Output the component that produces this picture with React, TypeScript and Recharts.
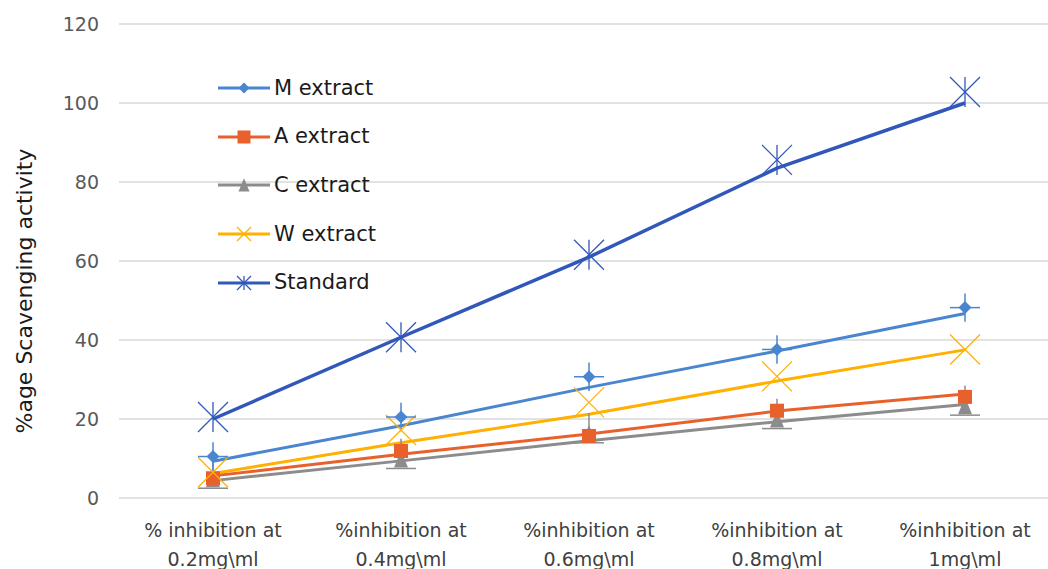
import {
  ComposedChart,
  CartesianGrid,
  ErrorBar,
  Legend,
  Line,
  XAxis,
  YAxis,
} from "recharts";

const categories = [
  "% inhibition at\n0.2mg\\ml",
  "%inhibition at\n0.4mg\\ml",
  "%inhibition at\n0.6mg\\ml",
  "%inhibition at\n0.8mg\\ml",
  "%inhibition at\n1mg\\ml",
];

// measured points
const mExtract = [10.5, 20.5, 30.7, 37.6, 48.2];
const aExtract = [5.0, 11.9, 15.7, 22.1, 25.6];
const cExtract = [4.5, 9.5, 16.0, 19.6, 23.0];
const wExtract = [6.5, 17.2, 24.2, 30.8, 37.6];
const standard = [20.5, 40.7, 61.6, 85.6, 102.8];

// fitted lines
const mFit = [9.3, 18.3, 28.0, 37.2, 46.7];
const aFit = [5.6, 11.1, 16.2, 22.0, 26.3];
const cFit = [4.4, 9.4, 14.5, 19.3, 23.7];
const wFit = [6.2, 14.0, 21.2, 29.6, 37.5];
const stdFit = [20.0, 40.7, 61.0, 83.5, 100.0];

// error bars
const mErr = [3.6, 3.6, 3.6, 3.6, 3.6];
const cErr = [5.5, 5.5, 5.5, 5.5, 5.5];

const yTicks = [0, 20, 40, 60, 80, 100, 120];

const COLORS = {
  m: "#4a86cf",
  a: "#e8612c",
  c: "#8c8c8c",
  w: "#ffb000",
  std: "#3057b9",
};

const FONT = "'DejaVu Sans', sans-serif";

const data = categories.map((name, i) => ({
  name,
  m: mExtract[i],
  a: aExtract[i],
  c: cExtract[i],
  w: wExtract[i],
  std: standard[i],
  mFit: mFit[i],
  aFit: aFit[i],
  cFit: cFit[i],
  wFit: wFit[i],
  stdFit: stdFit[i],
  mErr: mErr[i],
  cErr: [0, cErr[i]],
}));

type MarkProps = { cx?: number; cy?: number; size?: number; bars?: boolean };

function Diamond({ cx = 0, cy = 0, size = 13, bars = true }: MarkProps) {
  const r = size / 2;
  return (
    <g>
      {bars && (
        <line x1={cx - 15} x2={cx + 15} y1={cy} y2={cy} stroke={COLORS.m} strokeWidth={1.5} />
      )}
      <polygon
        points={`${cx},${cy - r} ${cx + r},${cy} ${cx},${cy + r} ${cx - r},${cy}`}
        fill={COLORS.m}
      />
    </g>
  );
}

function Square({ cx = 0, cy = 0, size = 14 }: MarkProps) {
  const r = size / 2;
  return <rect x={cx - r} y={cy - r} width={size} height={size} fill={COLORS.a} />;
}

function Triangle({ cx = 0, cy = 0, size = 14, bars = true }: MarkProps) {
  const r = size / 2;
  return (
    <g>
      {bars && (
        <line x1={cx - 15} x2={cx + 15} y1={cy + r + 1} y2={cy + r + 1} stroke={COLORS.c} strokeWidth={1.5} />
      )}
      <polygon
        points={`${cx},${cy - r * 1.4} ${cx + r},${cy + r} ${cx - r},${cy + r}`}
        fill={COLORS.c}
      />
    </g>
  );
}

function Cross({ cx = 0, cy = 0, size = 30 }: MarkProps) {
  const r = size / 2;
  return (
    <g stroke={COLORS.w} strokeWidth={1.3}>
      <line x1={cx - r} y1={cy - r} x2={cx + r} y2={cy + r} />
      <line x1={cx - r} y1={cy + r} x2={cx + r} y2={cy - r} />
    </g>
  );
}

function Star({ cx = 0, cy = 0, size = 30 }: MarkProps) {
  const r = size / 2;
  return (
    <g stroke={COLORS.std} strokeWidth={1.3}>
      <line x1={cx - r} y1={cy - r} x2={cx + r} y2={cy + r} />
      <line x1={cx - r} y1={cy + r} x2={cx + r} y2={cy - r} />
      <line x1={cx} y1={cy - r} x2={cx} y2={cy + r} />
    </g>
  );
}

const legendItems = [
  { label: "M extract", color: COLORS.m, mark: (x: number, y: number) => <Diamond cx={x} cy={y} size={11} bars={false} /> },
  { label: "A extract", color: COLORS.a, mark: (x: number, y: number) => <Square cx={x} cy={y} size={13} /> },
  { label: "C extract", color: COLORS.c, mark: (x: number, y: number) => <Triangle cx={x} cy={y + 1} size={11} bars={false} /> },
  { label: "W extract", color: COLORS.w, mark: (x: number, y: number) => <Cross cx={x} cy={y} size={14} /> },
  { label: "Standard", color: COLORS.std, mark: (x: number, y: number) => <Star cx={x} cy={y} size={14} /> },
];

function LegendBox() {
  return (
    <div style={{ fontFamily: FONT, fontSize: 21, color: "#1a1a1a", lineHeight: 1 }}>
      {legendItems.map((item) => (
        <div key={item.label} style={{ display: "flex", alignItems: "center", height: 48.6 }}>
          <svg width={56} height={20} style={{ overflow: "visible" }}>
            <line x1={0} x2={52} y1={10} y2={10} stroke={item.color} strokeWidth={3} />
            {item.mark(26, 10)}
          </svg>
          <span>{item.label}</span>
        </div>
      ))}
    </div>
  );
}

function CategoryTick({ x, y, payload }: any) {
  const [first, second] = String(payload.value).split("\n");
  return (
    <text x={x} y={y} textAnchor="middle" fill="#404040" fontSize={19} fontFamily={FONT}>
      <tspan x={x} y={y + 31}>{first}</tspan>
      <tspan x={x} y={y + 60}>{second}</tspan>
    </text>
  );
}

// y title sits a little below the plot's vertical middle
function YTitle({ viewBox }: any) {
  const x = 24;
  const y = viewBox.y + viewBox.height / 2 + 30;
  return (
    <text
      x={x}
      y={y}
      transform={`rotate(-90, ${x}, ${y})`}
      textAnchor="middle"
      dominantBaseline="central"
      fill="#1a1a1a"
      fontSize={22}
      fontFamily={FONT}
    >
      %age Scavenging activity
    </text>
  );
}

export default function App() {
  return (
    <div style={{ position: "fixed", left: 0, top: 0, width: 1048, height: 569, overflow: "hidden", background: "#fff" }}>
      <ComposedChart
        width={1060}
        height={569}
        data={data}
        margin={{ top: 24, right: 1, left: 0, bottom: 0 }}
      >
        <CartesianGrid vertical={false} stroke="#d9d9d9" strokeWidth={1.5} />
        <XAxis
          dataKey="name"
          axisLine={false}
          tickLine={false}
          height={71}
          interval={0}
          padding={{ left: 94, right: 94 }}
          tick={<CategoryTick />}
        />
        <YAxis
          domain={[0, 120]}
          ticks={yTicks}
          width={119}
          axisLine={false}
          tickLine={false}
          tickMargin={14}
          tick={{ fill: "#595959", fontSize: 19, fontFamily: FONT }}
          label={<YTitle />}
        />
        {/* centered vertical layout keeps the legend from reserving plot space */}
        <Legend
          layout="vertical"
          verticalAlign="middle"
          align="center"
          content={<LegendBox />}
          wrapperStyle={{ left: 218, top: 64, width: 220 }}
        />

        <Line dataKey="stdFit" stroke={COLORS.std} strokeWidth={3.5} dot={false} isAnimationActive={false} legendType="none" />
        <Line dataKey="mFit" stroke={COLORS.m} strokeWidth={3} dot={false} isAnimationActive={false} legendType="none" />
        <Line dataKey="wFit" stroke={COLORS.w} strokeWidth={3} dot={false} isAnimationActive={false} legendType="none" />
        <Line dataKey="aFit" stroke={COLORS.a} strokeWidth={3} dot={false} isAnimationActive={false} legendType="none" />
        <Line dataKey="cFit" stroke={COLORS.c} strokeWidth={3} dot={false} isAnimationActive={false} legendType="none" />

        <Line
          dataKey="c"
          stroke="none"
          isAnimationActive={false}
          dot={(p: any) => <Triangle key={`c${p.index}`} cx={p.cx} cy={p.cy} />}
          activeDot={false}
        >
          <ErrorBar dataKey="cErr" direction="y" width={0} stroke={COLORS.c} strokeWidth={1.5} />
        </Line>
        <Line
          dataKey="a"
          stroke="none"
          isAnimationActive={false}
          dot={(p: any) => <Square key={`a${p.index}`} cx={p.cx} cy={p.cy} />}
          activeDot={false}
        />
        <Line
          dataKey="w"
          stroke="none"
          isAnimationActive={false}
          dot={(p: any) => <Cross key={`w${p.index}`} cx={p.cx} cy={p.cy} />}
          activeDot={false}
        />
        <Line
          dataKey="m"
          stroke="none"
          isAnimationActive={false}
          dot={(p: any) => <Diamond key={`m${p.index}`} cx={p.cx} cy={p.cy} />}
          activeDot={false}
        >
          <ErrorBar dataKey="mErr" direction="y" width={0} stroke={COLORS.m} strokeWidth={1.5} />
        </Line>
        <Line
          dataKey="std"
          stroke="none"
          isAnimationActive={false}
          dot={(p: any) => <Star key={`s${p.index}`} cx={p.cx} cy={p.cy} />}
          activeDot={false}
        />
      </ComposedChart>
    </div>
  );
}
